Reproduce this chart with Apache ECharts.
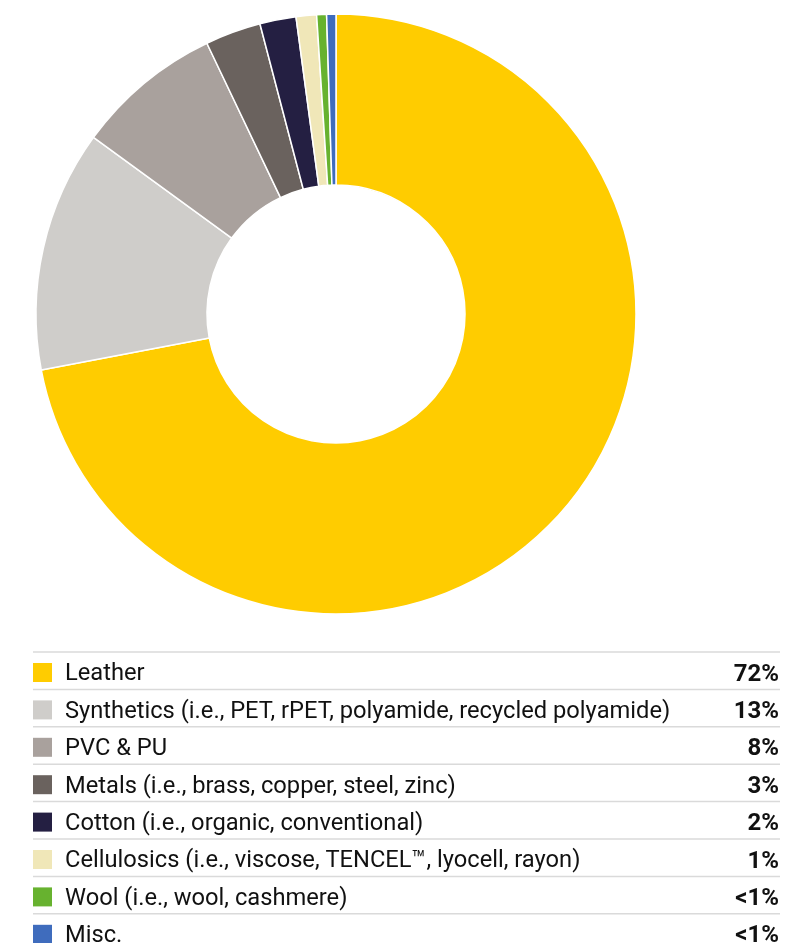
<!DOCTYPE html>
<html><head><meta charset="utf-8">
<script src="https://cdn.jsdelivr.net/npm/echarts@6/dist/echarts.min.js"></script>
<style>html,body{margin:0;padding:0;background:#fff}#c{width:786px;height:943px}</style>
</head><body><div id="c"></div>
<script>
var categories = ["Leather","Synthetics (i.e., PET, rPET, polyamide, recycled polyamide)","PVC & PU","Metals (i.e., brass, copper, steel, zinc)","Cotton (i.e., organic, conventional)","Cellulosics (i.e., viscose, TENCEL\u2122, lyocell, rayon)","Wool (i.e., wool, cashmere)","Misc."];
var values = [72, 13, 7.9, 3, 1.95, 1.1, 0.53, 0.5];
var pctLabels = ["72%","13%","8%","3%","2%","1%","<1%","<1%"];
var colors = ["#FFCC00","#CFCDCA","#A9A19D","#6A625E","#241F42","#F0E7B8","#67B22F","#3F6CBD"];

var chart = echarts.init(document.getElementById('c'), null, {renderer:'canvas'});
var FONT = 'Roboto';
var rowTop = 652, rowH = 37.4;
var g = [];
for (var i = 0; i < categories.length; i++) {
  var ly = rowTop + i*rowH, cy = ly + 20.5;
  g.push({type:'line', shape:{x1:33,y1:ly,x2:780,y2:ly}, style:{stroke:'#DADADA', lineWidth:1.5}, silent:true});
  g.push({type:'rect', shape:{x:33,y:cy-9.5,width:19,height:19}, style:{fill:colors[i]}, silent:true});
  g.push({type:'text', x:65, y:cy+2, style:{text:categories[i], fill:'#111', font:'23.7px ' + FONT, verticalAlign:'middle', align:'left'}, silent:true});
  g.push({type:'text', x:779, y:cy+2, style:{text:pctLabels[i], fill:'#111', font:'bold 24px ' + FONT, verticalAlign:'middle', align:'right'}, silent:true});
}
chart.setOption({
  animation:false,
  color: colors,
  graphic: g,
  series: [{
    type:'pie',
    center:[336,314],
    radius:[129,300],
    startAngle:90,
    clockwise:true,
    label:{show:false}, labelLine:{show:false},
    silent:true,
    itemStyle:{borderColor:'#fff', borderWidth:1.5},
    data: categories.map(function(c,i){return {name:c, value:values[i]};})
  }]
});
</script></body></html>
